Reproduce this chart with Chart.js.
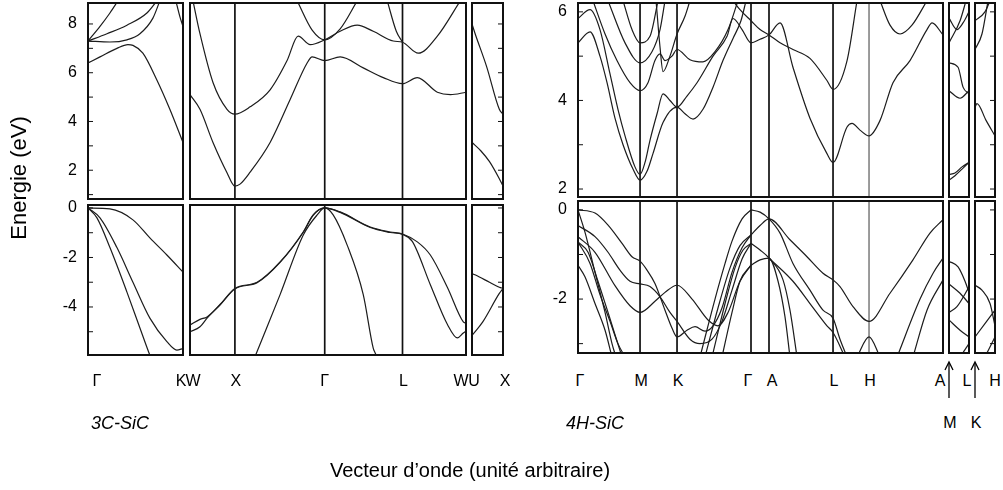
<!DOCTYPE html>
<html>
<head>
<meta charset="utf-8">
<title>Structure de bandes 3C-SiC / 4H-SiC</title>
<script src="https://cdn.jsdelivr.net/npm/chart.js@4.4.1/dist/chart.umd.min.js"></script>
<style>
  body { margin: 0; background: #fff; }
  #fig { position: relative; width: 1003px; height: 490px; overflow: hidden;
         font-family: "Liberation Sans", Arial, Helvetica, sans-serif; color: #000; }
  #fig canvas { position: absolute; }
  .txt { position: absolute; white-space: nowrap; transform: translate(-50%, -50%); font-size: 16px; line-height: 1; }
  .it { font-style: italic; font-size: 18px; }
</style>
</head>
<body>
<div id="fig"></div>
<script>
// ---------- data: k in 2pi/a (arbitrary units), E in eV ----------
// 3C-SiC high symmetry points per path segment
const k3cGK = { G: 0, K: 1.061 };
const k3cWXGLW = { W: 0, X: 0.5, G: 1.5, L: 2.366, W2: 3.073 };
const k3cUX = { U: 0, X: 0.354 };

// 3C-SiC conduction bands
const c3UpGK = [
  [[0,6.4],[0.134,6.65],[0.323,7.0],[0.446,7.15],[0.502,7.12],[0.613,6.8],[0.769,5.7],[0.914,4.5],[1.061,3.14]],
  [[0,7.3],[0.245,7.26],[0.435,7.35],[0.58,7.6],[0.725,8.24],[0.803,8.95]],
  [[0,7.3],[0.212,7.6],[0.435,7.95],[0.658,8.45],[0.77,8.95]],
  [[0,7.3],[0.134,7.9],[0.245,8.45],[0.335,8.95]],
  [[0.981,8.95],[1.026,8.3],[1.061,7.9]]
];
const c3UpWXGLW = [
  [[0,5.1],[0.111,4.5],[0.256,3.14],[0.412,1.9],[0.5,1.35],[0.557,1.43],[0.669,1.92],[0.892,3.14],[1.115,4.9],[1.304,6.4],[1.36,6.65],[1.5,6.5],[1.672,6.65],[1.929,6.2],[2.152,5.8],[2.366,5.55],[2.531,5.8],[2.754,5.2],[2.9,5.1],[3.073,5.2]],
  [[0.033,8.95],[0.111,7.6],[0.256,5.6],[0.412,4.5],[0.5,4.3],[0.669,4.6],[0.892,5.3],[1.081,6.5],[1.204,7.5],[1.338,7.15],[1.5,7.35],[1.672,7.7],[1.862,7.95],[2.04,7.7],[2.263,7.3],[2.366,7.25],[2.542,6.8],[2.754,7.5],[3.01,8.95]],
  [[1.193,8.95],[1.36,7.75],[1.5,7.35],[1.672,7.8],[1.862,8.95]],
  [[2.196,8.95],[2.297,7.7],[2.366,7.25]]
];
const c3UpUX = [
  [[0,3.14],[0.1,2.8],[0.2,2.35],[0.312,1.65],[0.354,1.35]],
  [[0,8.0],[0.033,7.63],[0.167,6.25],[0.312,4.5],[0.354,4.3]]
];
// 3C-SiC valence bands
const c3LoGK = [
  [[0,0],[0.245,-0.04],[0.502,-0.48],[0.691,-1.21],[0.881,-1.9],[1.061,-2.59]],
  [[0,0],[0.134,-0.4],[0.323,-1.6],[0.502,-3.0],[0.691,-4.45],[0.881,-5.4],[0.992,-5.74],[1.061,-5.68]],
  [[0,0],[0.1,-0.4],[0.245,-1.6],[0.435,-3.4],[0.58,-4.85],[0.691,-5.95],[0.72,-6.2]]
];
const c3LoWXGLW = [
  [[0,-4.73],[0.111,-4.5],[0.19,-4.4],[0.334,-3.9],[0.5,-3.25],[0.747,-3.0],[1.003,-2.18],[1.26,-0.97],[1.371,-0.28],[1.5,0],[1.672,-0.16],[2.007,-0.77],[2.23,-0.97],[2.366,-1.05],[2.531,-1.37],[2.676,-1.9],[2.865,-3.2],[3.043,-4.6],[3.073,-4.65]],
  [[0,-5.0],[0.111,-4.8],[0.19,-4.45],[0.334,-3.92],[0.5,-3.27],[0.747,-3.02],[1.003,-2.2],[1.26,-0.99],[1.371,-0.3],[1.5,0],[1.672,-0.18],[2.007,-0.79],[2.23,-0.99],[2.366,-1.07],[2.475,-1.35],[2.676,-3.1],[2.865,-4.7],[2.977,-5.25],[3.043,-5.05],[3.073,-4.98]],
  [[0.725,-6.0],[0.747,-5.8],[1.003,-3.5],[1.26,-1.1],[1.416,-0.28],[1.5,0],[1.594,-0.28],[1.75,-1.5],[1.929,-3.5],[2.04,-5.66],[2.062,-5.86],[2.08,-6.0]]
];
const c3LoUX = [
  [[0,-2.65],[0.033,-2.7],[0.2,-3.0],[0.312,-3.2],[0.354,-3.25]],
  [[0,-5.15],[0.123,-4.6],[0.312,-3.45],[0.354,-3.25]]
];

// 4H-SiC high symmetry points
const k4hMain = { G: 0, M: 0.562, K: 0.897, G2: 1.567, A: 1.730, L: 2.310, H: 2.636, A2: 3.306 };
const k4hML = { M: 0, L: 0.181 };
const k4hKH = { K: 0, H: 0.181 };

// 4H-SiC conduction bands
const h4UpMain = [
  [[0,5.3],[0.109,5.55],[0.199,5.0],[0.263,4.4],[0.335,3.6],[0.408,3.0],[0.498,2.45],[0.562,2.2],[0.625,2.4],[0.679,2.8],[0.770,3.5],[0.897,3.85],[0.969,3.7],[1.042,3.58],[1.132,3.8],[1.223,4.3],[1.313,4.9],[1.404,5.4],[1.476,5.8],[1.522,6.25]],
  [[0,5.85],[0.109,6.05],[0.199,5.6],[0.290,4.6],[0.362,3.8],[0.426,3.2],[0.516,2.5],[0.562,2.33],[0.607,2.6],[0.652,3.1],[0.716,3.7],[0.770,4.15],[0.833,4.0],[0.897,3.85],[0.987,4.1],[1.078,4.4],[1.223,5.0],[1.350,5.45],[1.404,5.85],[1.486,5.6],[1.567,5.3],[1.649,5.38],[1.730,5.48],[1.830,5.75],[1.947,4.75],[2.101,3.6],[2.255,2.8],[2.310,2.6],[2.437,3.4],[2.482,3.48],[2.554,3.33],[2.636,3.2],[2.736,3.55],[2.853,4.4],[3.007,4.9],[3.161,5.6],[3.207,5.75],[3.306,5.48]],
  [[1.404,6.25],[1.467,6.05],[1.567,5.8],[1.649,5.6],[1.730,5.48],[1.830,5.3],[1.947,5.15],[2.101,4.95],[2.255,4.45],[2.310,4.25],[2.437,4.9],[2.527,6.25]],
  [[2.736,6.25],[2.826,5.7],[2.917,5.5],[3.025,5.7],[3.161,6.25]],
  [[0.136,6.25],[0.245,5.5],[0.353,4.9],[0.471,4.4],[0.562,4.22],[0.634,4.4],[0.697,4.9],[0.743,5.05],[0.788,4.9],[0.851,5.0],[0.897,5.15],[1.014,4.92],[1.132,4.87],[1.241,5.1],[1.359,5.6],[1.449,6.25]],
  [[0.272,6.25],[0.426,5.3],[0.562,4.85],[0.670,5.1],[0.743,5.6],[0.788,6.25]],
  [[0.408,6.25],[0.489,5.6],[0.562,5.3],[0.652,5.45],[0.725,6.25]],
  [[0.707,6.25],[0.743,5.2],[0.770,4.65],[0.833,5.0],[0.897,5.5],[0.969,5.9],[1.014,6.25]]
];
const h4UpML = [
  [[0,2.2],[0.054,2.3],[0.118,2.45],[0.181,2.6]],
  [[0,2.33],[0.054,2.36],[0.118,2.5],[0.181,2.6]],
  [[0,4.85],[0.082,4.75],[0.127,4.3],[0.181,4.15]],
  [[0,4.22],[0.1,4.05],[0.181,4.22]],
  [[0,5.86],[0.072,5.6],[0.127,5.75],[0.181,6.0]],
  [[0,5.3],[0.1,5.8],[0.154,6.25]]
];
const h4UpKH = [
  [[0,3.85],[0.018,3.93],[0.1,3.55],[0.181,3.2]],
  [[0,5.8],[0.09,6.0],[0.136,6.25]],
  [[0,5.15],[0.063,5.5],[0.118,6.25]]
];
// 4H-SiC valence bands
const h4LoMain = [
  [[0,0],[0.154,-0.07],[0.272,-0.34],[0.399,-0.75],[0.489,-1.05],[0.562,-1.15],[0.625,-1.35],[0.697,-1.65],[0.788,-2.25],[0.851,-2.65],[0.897,-2.85],[0.987,-2.7],[1.06,-2.62],[1.15,-2.72],[1.223,-2.6],[1.304,-2.2],[1.395,-1.4],[1.486,-0.85],[1.567,-0.56]],
  [[0,-0.35],[0.154,-0.6],[0.272,-0.95],[0.380,-1.35],[0.471,-1.6],[0.562,-1.66],[0.652,-1.72],[0.743,-1.95],[0.833,-2.3],[0.897,-2.5],[1.014,-2.9],[1.105,-3.0],[1.214,-2.9],[1.304,-2.5],[1.395,-1.8],[1.486,-1.1],[1.567,-0.75]],
  [[0,-0.6],[0.154,-0.95],[0.335,-1.7],[0.471,-2.15],[0.562,-2.3],[0.697,-2.05],[0.788,-1.85],[0.897,-1.69],[1.033,-2.0],[1.178,-2.47],[1.268,-2.6],[1.359,-2.3],[1.467,-1.6],[1.567,-1.24]],
  [[0,-0.72],[0.091,-0.95],[0.181,-1.6],[0.272,-2.3],[0.335,-2.8],[0.399,-3.3]],
  [[0,-1.24],[0.063,-1.5],[0.154,-2.1],[0.245,-2.7],[0.308,-3.3]],
  [[0,0],[0.063,-0.5],[0.154,-1.4],[0.245,-2.3],[0.308,-3.0],[0.344,-3.3]],
  [[0,-0.72],[0.109,-1.2],[0.199,-1.9],[0.290,-2.5],[0.362,-3.0],[0.426,-3.3]],
  [[1.105,-3.3],[1.241,-2.0],[1.332,-1.2],[1.395,-0.7],[1.486,-0.2],[1.567,0]],
  [[1.15,-3.3],[1.268,-2.2],[1.377,-1.3],[1.467,-0.8],[1.567,-0.56]],
  [[1.214,-3.3],[1.332,-2.1],[1.422,-1.3],[1.495,-0.9],[1.567,-0.75]],
  [[1.304,-3.3],[1.395,-2.3],[1.467,-1.6],[1.567,-1.24]],
  [[1.567,0],[1.649,-0.05],[1.730,-0.2],[1.830,-0.52],[1.947,-1.2],[2.101,-1.8],[2.219,-2.25],[2.310,-2.43],[2.373,-2.9],[2.437,-3.3]],
  [[1.567,-0.56],[1.649,-0.35],[1.730,-0.2],[1.920,-0.67],[2.074,-1.05],[2.219,-1.42],[2.310,-1.57],[2.373,-1.72],[2.491,-2.17],[2.636,-2.5],[2.826,-1.87],[3.034,-1.12],[3.188,-0.52],[3.306,-0.22]],
  [[1.567,-0.75],[1.649,-0.9],[1.730,-1.08],[1.857,-1.57],[1.920,-2.25],[1.984,-3.3]],
  [[1.567,-1.24],[1.649,-1.12],[1.730,-1.08],[1.812,-1.6],[1.875,-2.4],[1.920,-3.3]],
  [[1.730,-1.08],[1.947,-1.6],[2.101,-2.1],[2.255,-2.6],[2.310,-2.75],[2.418,-3.3]],
  [[2.527,-3.3],[2.636,-2.85],[2.736,-3.3]],
  [[2.890,-3.3],[3.098,-2.0],[3.216,-1.42],[3.306,-1.08]],
  [[3.034,-3.3],[3.161,-2.25],[3.306,-1.57]]
];
const h4LoML = [
  [[0,-1.15],[0.082,-1.28],[0.145,-1.6],[0.181,-1.85]],
  [[0,-1.66],[0.1,-1.87],[0.181,-2.1]],
  [[0,-2.3],[0.072,-2.17],[0.181,-1.73]],
  [[0,-2.47],[0.1,-2.7],[0.181,-2.85]],
  [[0.1,-3.3],[0.181,-3.0]]
];
const h4LoKH = [
  [[0,-1.69],[0.063,-1.8],[0.136,-2.1],[0.181,-2.6]],
  [[0,-2.85],[0.09,-2.55],[0.181,-2.25]],
  [[0.09,-3.3],[0.181,-2.85]]
];

// energy windows
const e3cUp = [0.82, 8.86], e3cLo = [-5.94, 0.12];
const e4hUp = [1.82, 6.2],  e4hLo = [-3.21, 0.2];

// ---------- layout ----------
const FONT = '"Liberation Sans", Arial, Helvetica, sans-serif';
const PADX = 2, PADY = 14, AXW = 60;
const fig = document.getElementById('fig');
const charts = {};

const framePlugin = {
  id: 'frame',
  beforeDatasetsDraw(chart, args, o) {
    const { ctx, chartArea: a, scales: { x } } = chart;
    ctx.save();
    ctx.lineWidth = 1.7;
    (o.lines || []).forEach(l => {
      const px = x.getPixelForValue(l.k);
      ctx.strokeStyle = l.gray ? '#8a8a8a' : '#111';
      ctx.beginPath(); ctx.moveTo(px, a.top); ctx.lineTo(px, a.bottom); ctx.stroke();
    });
    ctx.restore();
  },
  afterDatasetsDraw(chart, args, o) {
    const { ctx, chartArea: a, scales: { y } } = chart;
    ctx.save();
    ctx.strokeStyle = '#111';
    ctx.lineWidth = 2;
    ctx.strokeRect(a.left, a.top, a.right - a.left, a.bottom - a.top);
    if (o.ticks) {
      ctx.lineWidth = 1;
      for (let v = Math.ceil(y.min); v <= Math.floor(y.max); v++) {
        const py = y.getPixelForValue(v);
        ctx.beginPath();
        if (o.ticks === 'left') { ctx.moveTo(a.left, py); ctx.lineTo(a.left + 5, py); }
        else { ctx.moveTo(a.right, py); ctx.lineTo(a.right - 5, py); }
        ctx.stroke();
      }
    }
    ctx.restore();
  }
};

function makePanel(p) {
  const [bx, by, bw, bh] = p.box;
  const left = p.axis ? AXW : PADX;
  const cv = document.createElement('canvas');
  cv.width = bw + left + PADX;
  cv.height = bh + 2 * PADY;
  cv.style.left = (bx - left) + 'px';
  cv.style.top = (by - PADY) + 'px';
  fig.appendChild(cv);
  const yAxis = {
    type: 'linear', min: p.e[0], max: p.e[1], display: !!p.axis,
    grid: { display: false, drawTicks: false },
    border: { display: false },
    ticks: {
      stepSize: 1, padding: 11, autoSkip: false, includeBounds: false, color: '#000',
      font: { family: FONT, size: 16 },
      callback: v => (Number.isInteger(v) && v % 2 === 0) ? String(v) : ''
    }
  };
  if (p.axis) yAxis.afterFit = s => { s.width = AXW; s.paddingTop = 0; s.paddingBottom = 0; };
  charts[p.id] = new Chart(cv, {
    type: 'line',
    data: {
      datasets: p.bands.map(b => ({
        data: b.map(pt => ({ x: pt[0], y: pt[1] })),
        borderColor: '#1c1c1c',
        borderWidth: 1.2,
        pointRadius: 0,
        fill: false,
        cubicInterpolationMode: 'monotone'
      }))
    },
    options: {
      responsive: false,
      animation: false,
      devicePixelRatio: 1,
      events: [],
      layout: { padding: { left: p.axis ? 0 : PADX, right: PADX, top: PADY, bottom: PADY } },
      plugins: {
        legend: { display: false },
        tooltip: { enabled: false },
        frame: { lines: p.lines || [], ticks: p.ticks }
      },
      scales: {
        x: { type: 'linear', min: 0, max: p.xMax, display: false },
        y: yAxis
      }
    },
    plugins: [framePlugin]
  });
}

const lines3c = [{ k: k3cWXGLW.X }, { k: k3cWXGLW.G }, { k: k3cWXGLW.L }];
const lines4h = [{ k: k4hMain.M }, { k: k4hMain.K }, { k: k4hMain.G2 }, { k: k4hMain.A },
                 { k: k4hMain.L }, { k: k4hMain.H, gray: true }];

const panels = [
  { id: 'c3uA', box: [88, 3, 95, 196],  xMax: k3cGK.K,     e: e3cUp, bands: c3UpGK, axis: true, ticks: 'left' },
  { id: 'c3uB', box: [190, 3, 276, 196], xMax: k3cWXGLW.W2, e: e3cUp, bands: c3UpWXGLW, lines: lines3c },
  { id: 'c3uC', box: [472, 3, 31, 196],  xMax: k3cUX.X,     e: e3cUp, bands: c3UpUX, ticks: 'right' },
  { id: 'c3lA', box: [88, 205, 95, 150], xMax: k3cGK.K,     e: e3cLo, bands: c3LoGK, axis: true, ticks: 'left' },
  { id: 'c3lB', box: [190, 205, 276, 150], xMax: k3cWXGLW.W2, e: e3cLo, bands: c3LoWXGLW, lines: lines3c },
  { id: 'c3lC', box: [472, 205, 31, 150], xMax: k3cUX.X,    e: e3cLo, bands: c3LoUX, ticks: 'right' },
  { id: 'h4u1', box: [578, 3, 365, 194], xMax: k4hMain.A2,  e: e4hUp, bands: h4UpMain, axis: true, ticks: 'left', lines: lines4h },
  { id: 'h4u2', box: [949, 3, 20, 194],  xMax: k4hML.L,     e: e4hUp, bands: h4UpML },
  { id: 'h4u3', box: [975, 3, 20, 194],  xMax: k4hKH.H,     e: e4hUp, bands: h4UpKH, ticks: 'right' },
  { id: 'h4l1', box: [578, 201, 365, 152], xMax: k4hMain.A2, e: e4hLo, bands: h4LoMain, axis: true, ticks: 'left', lines: lines4h },
  { id: 'h4l2', box: [949, 201, 20, 152], xMax: k4hML.L,    e: e4hLo, bands: h4LoML },
  { id: 'h4l3', box: [975, 201, 20, 152], xMax: k4hKH.H,    e: e4hLo, bands: h4LoKH, ticks: 'right' }
];
panels.forEach(makePanel);

// ---------- texts ----------
function addText(t, x, y, cls, style) {
  const d = document.createElement('div');
  d.className = 'txt' + (cls ? ' ' + cls : '');
  d.textContent = t;
  d.style.left = x + 'px';
  d.style.top = y + 'px';
  if (style) Object.assign(d.style, style);
  fig.appendChild(d);
  return d;
}
function xOf(id, k) {
  const c = charts[id];
  return parseFloat(c.canvas.style.left) + c.scales.x.getPixelForValue(k);
}

const LABEL_Y = 381;
const pathLabels = [
  { t: 'Γ', p: 'c3lA', k: k3cGK.G, dx: 9 },
  { t: 'K', p: 'c3lA', k: k3cGK.K, dx: -2 },
  { t: 'W', p: 'c3lB', k: k3cWXGLW.W, dx: 3 },
  { t: 'X', p: 'c3lB', k: k3cWXGLW.X, dx: 1 },
  { t: 'Γ', p: 'c3lB', k: k3cWXGLW.G, dx: 0 },
  { t: 'L', p: 'c3lB', k: k3cWXGLW.L, dx: 1 },
  { t: 'W', p: 'c3lB', k: k3cWXGLW.W2, dx: -5 },
  { t: 'U', p: 'c3lC', k: k3cUX.U, dx: 2 },
  { t: 'X', p: 'c3lC', k: k3cUX.X, dx: 2 },
  { t: 'Γ', p: 'h4l1', k: k4hMain.G, dx: 2 },
  { t: 'M', p: 'h4l1', k: k4hMain.M, dx: 1 },
  { t: 'K', p: 'h4l1', k: k4hMain.K, dx: 1 },
  { t: 'Γ', p: 'h4l1', k: k4hMain.G2, dx: -3 },
  { t: 'A', p: 'h4l1', k: k4hMain.A, dx: 3 },
  { t: 'L', p: 'h4l1', k: k4hMain.L, dx: 1 },
  { t: 'H', p: 'h4l1', k: k4hMain.H, dx: 1 },
  { t: 'A', p: 'h4l1', k: k4hMain.A2, dx: -3 },
  { t: 'L', p: 'h4l2', k: k4hML.L, dx: -2 },
  { t: 'H', p: 'h4l3', k: k4hKH.H, dx: 0 }
];
pathLabels.forEach(l => addText(l.t, xOf(l.p, l.k) + l.dx, LABEL_Y));

// points hidden under the narrow frames
const arrowPts = [
  { t: 'M', p: 'h4l2', k: k4hML.M },
  { t: 'K', p: 'h4l3', k: k4hKH.K }
];
const NS = 'http://www.w3.org/2000/svg';
const svg = document.createElementNS(NS, 'svg');
svg.setAttribute('width', 1003); svg.setAttribute('height', 490);
svg.style.position = 'absolute'; svg.style.left = '0'; svg.style.top = '0';
arrowPts.forEach(a => {
  const x = xOf(a.p, a.k);
  const ln = document.createElementNS(NS, 'line');
  ln.setAttribute('x1', x); ln.setAttribute('y1', 398);
  ln.setAttribute('x2', x); ln.setAttribute('y2', 363);
  ln.setAttribute('stroke', '#000'); ln.setAttribute('stroke-width', 1.3);
  svg.appendChild(ln);
  const hd = document.createElementNS(NS, 'polyline');
  hd.setAttribute('points', `${x - 4},${370} ${x},${362} ${x + 4},${370}`);
  hd.setAttribute('fill', 'none'); hd.setAttribute('stroke', '#000'); hd.setAttribute('stroke-width', 1.3);
  svg.appendChild(hd);
  addText(a.t, x + 1, 423);
});
fig.appendChild(svg);

addText('3C-SiC', 120, 423, 'it');
addText('4H-SiC', 595, 423, 'it');
addText('Vecteur d’onde (unité arbitraire)', 470, 470, '', { fontSize: '20px' });
addText('Energie (eV)', 19, 178, '', { fontSize: '22px', transform: 'translate(-50%, -50%) rotate(-90deg)' });
</script>
</body>
</html>
